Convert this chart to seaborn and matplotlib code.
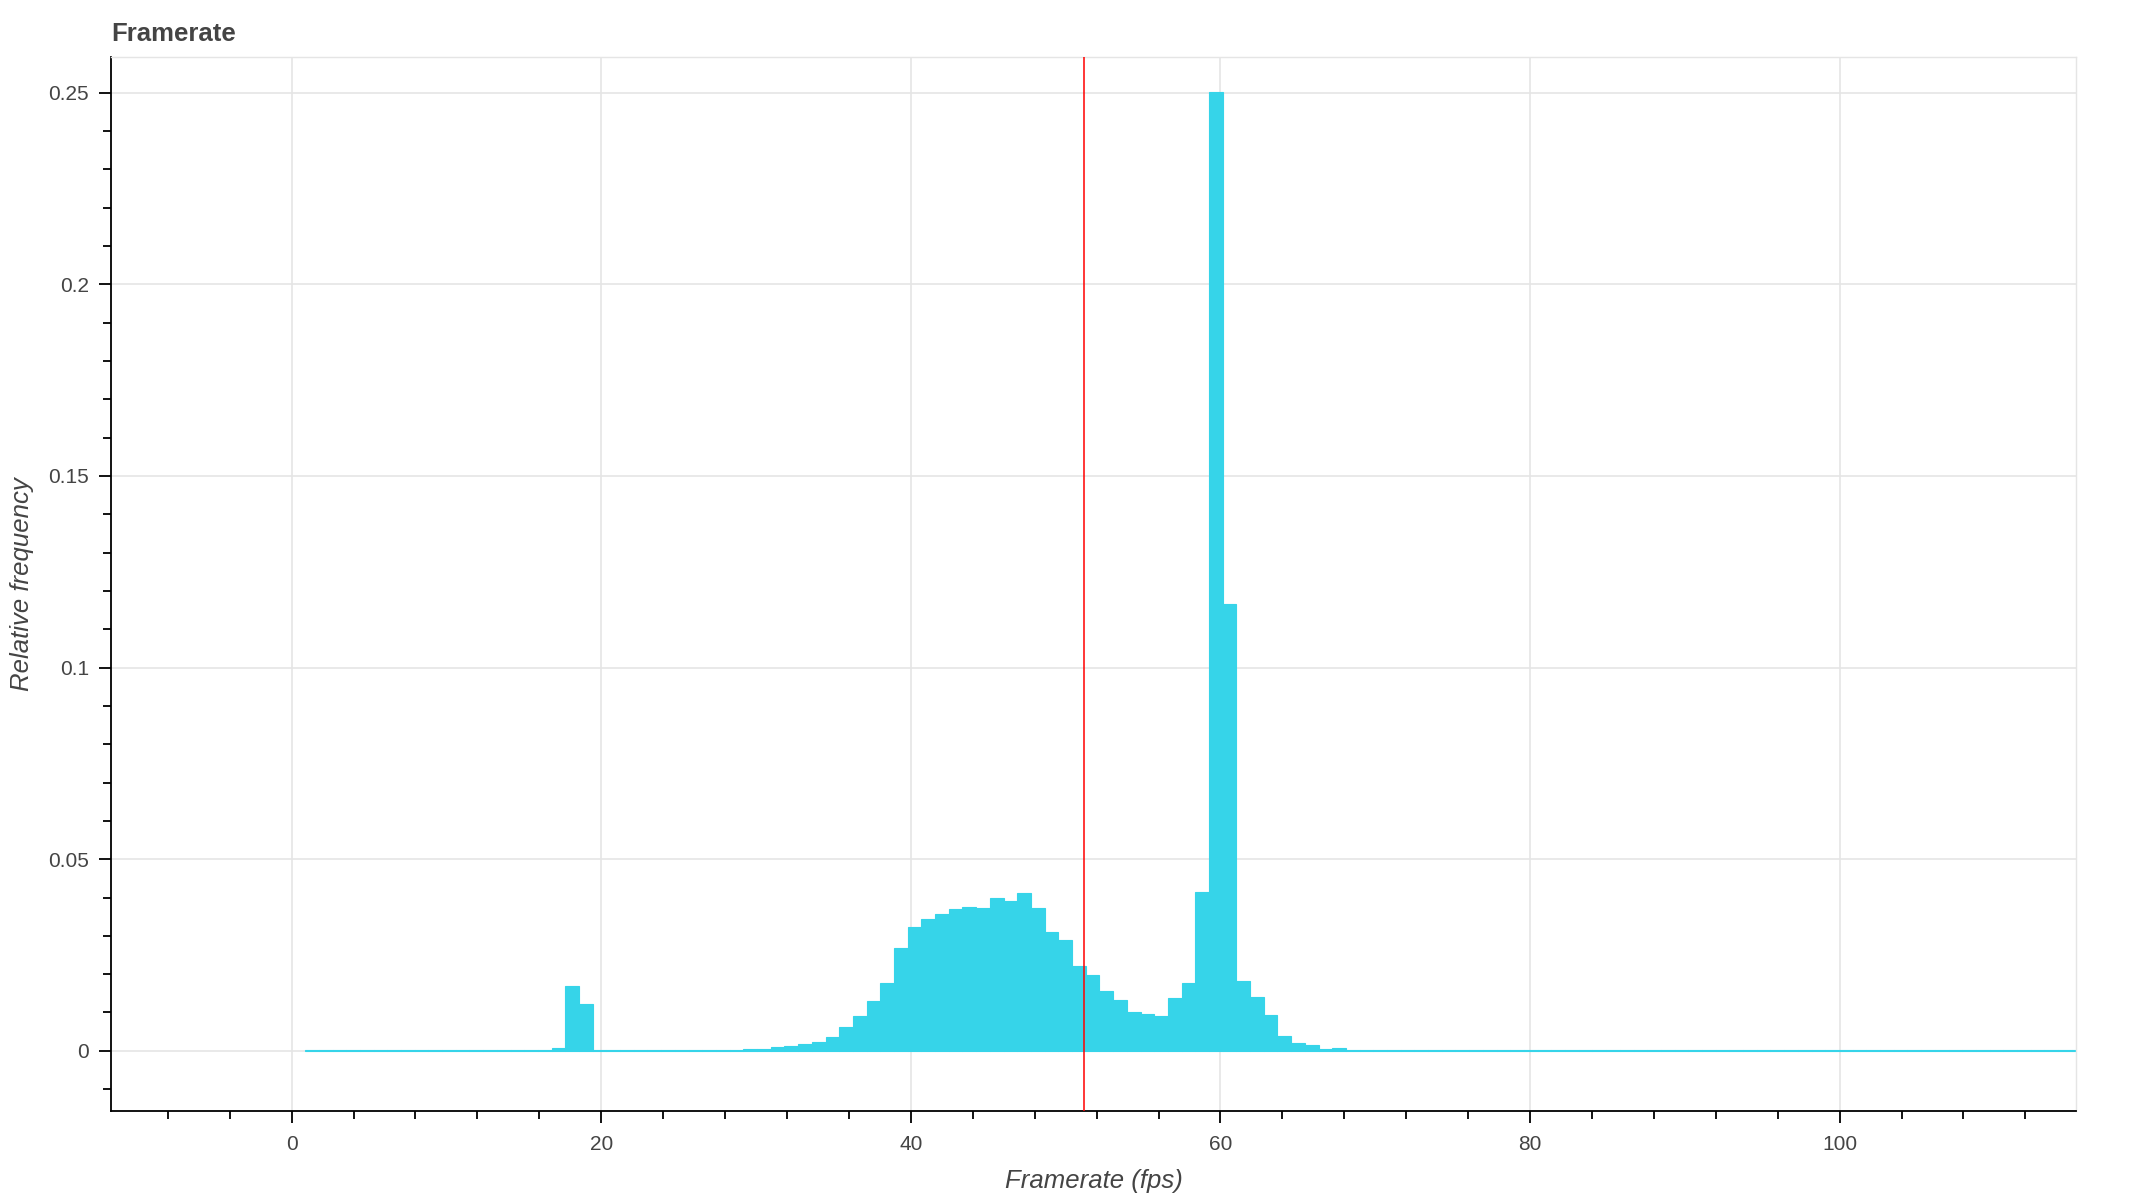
import numpy as np
import pandas as pd
import matplotlib
matplotlib.use("Agg")
import matplotlib.pyplot as plt
from matplotlib.ticker import MultipleLocator, FuncFormatter
import seaborn as sns

# ---------------- data ----------------
BIN_START = 0.87        # left edge of first bin (fps)
BIN_WIDTH = 0.8847      # bin width (fps)
MEAN_FPS = 51.17        # red reference line

REL_FREQ = [
    # bins 0-17
    0.0003, 0.0003, 0.0002, 0.0002, 0.0002, 0.0003, 0.0002, 0.0003, 0.0003, 0.0003,
    0.0002, 0.0002, 0.0002, 0.0003, 0.0002, 0.0002, 0.0002, 0.0002,
    # bins 18-32
    0.0007, 0.0169, 0.0122, 0.0003, 0.0002, 0.0002, 0.0002, 0.0003, 0.0002, 0.0002,
    0.0002, 0.0002, 0.0003, 0.0003, 0.0004,
    # bins 33-52
    0.0006, 0.0011, 0.0013, 0.0019, 0.0023, 0.0036, 0.0061, 0.0091, 0.0130, 0.0178,
    0.0268, 0.0322, 0.0345, 0.0358, 0.0370, 0.0376, 0.0373, 0.0398, 0.0391, 0.0413,
    # bins 53-76
    0.0373, 0.0309, 0.0288, 0.0221, 0.0198, 0.0157, 0.0133, 0.0100, 0.0097, 0.0092,
    0.0137, 0.0178, 0.0414, 0.2502, 0.1165, 0.0181, 0.0141, 0.0093, 0.0039, 0.0021,
    0.0015, 0.0006, 0.0007, 0.0003,
    # bins 77-130 (long flat tail)
    0.0002, 0.0002, 0.0002, 0.0002, 0.0002, 0.0002, 0.0002, 0.0001, 0.0002, 0.0002,
    0.0001, 0.0002, 0.0001, 0.0001, 0.0002, 0.0001, 0.0001, 0.0001, 0.0002, 0.0001,
    0.0001, 0.0001, 0.0001, 0.0002, 0.0001, 0.0001, 0.0001, 0.0001, 0.0001, 0.0001,
    0.0001, 0.0001, 0.0001, 0.0001, 0.0001, 0.0001, 0.0001, 0.0001, 0.0001, 0.0001,
    0.0001, 0.0001, 0.0001, 0.0001, 0.0001, 0.0001, 0.0001, 0.0001, 0.0001, 0.0001,
    0.0001, 0.0001, 0.0001, 0.0001,
]

X_TICKS = [0, 20, 40, 60, 80, 100]
Y_TICKS = [0, 0.05, 0.1, 0.15, 0.2, 0.25]

TITLE = "Framerate"
X_LABEL = "Framerate (fps)"
Y_LABEL = "Relative frequency"

# --------------- build table ---------------
n_bins = len(REL_FREQ)
edges = BIN_START + BIN_WIDTH * np.arange(n_bins + 1)
centers = (edges[:-1] + edges[1:]) / 2
df = pd.DataFrame({"fps": centers, "freq": REL_FREQ})

# --------------- style ---------------
sns.set_theme(style="white")
plt.rcParams["font.family"] = ["Liberation Sans", "DejaVu Sans"]
TEXT = "#444444"
GRID = "#e5e5e5"
BAR = "#36d4e9"

fig = plt.figure(figsize=(21.36, 12), dpi=100)
ax = fig.add_axes([111 / 2136, 1 - 1111 / 1200, (2076 - 111) / 2136, (1111 - 57) / 1200])

sns.histplot(data=df, x="fps", weights="freq",
             binwidth=BIN_WIDTH, binrange=(float(edges[0]), float(edges[-1])),
             stat="count", element="bars", fill=True, color=BAR, alpha=1.0,
             edgecolor=BAR, linewidth=0.8, ax=ax)

ax.axvline(MEAN_FPS, color="red", lw=1.1, zorder=5)

ax.set_xlim(-11.67, 115.27)
ax.set_ylim(-0.0157, 0.2593)

ax.set_xticks(X_TICKS)
ax.set_yticks(Y_TICKS)
ax.xaxis.set_minor_locator(MultipleLocator(4))
ax.yaxis.set_minor_locator(MultipleLocator(0.01))
ax.xaxis.set_major_formatter(FuncFormatter(lambda v, p: f"{v:g}"))
ax.yaxis.set_major_formatter(FuncFormatter(lambda v, p: f"{v:g}"))

ax.grid(True, which="major", color=GRID, lw=1.2)
ax.set_axisbelow(True)

for s in ["top", "right"]:
    ax.spines[s].set_color(GRID)
    ax.spines[s].set_linewidth(1.0)
for s in ["left", "bottom"]:
    ax.spines[s].set_color("black")
    ax.spines[s].set_linewidth(1.3)

ax.tick_params(which="major", direction="out", length=8.5, width=1.3,
               color="black", labelsize=15, labelcolor=TEXT)
ax.tick_params(which="minor", direction="out", length=5.5, width=1.3, color="black")
ax.tick_params(axis="x", which="both", bottom=True, pad=9)
ax.tick_params(axis="y", which="both", left=True, pad=7.5)

ax.set_xlabel(X_LABEL, fontsize=18.5, style="italic", color=TEXT)
ax.set_ylabel(Y_LABEL, fontsize=18.5, style="italic", color=TEXT)
ax.xaxis.set_label_coords(0.5, -0.055)
ax.yaxis.set_label_coords(-0.039, 0.5)

ax.set_title(TITLE, loc="left", fontsize=18.5, fontweight="bold", color=TEXT, pad=11.5)

fig.savefig("out.png", dpi=100)
